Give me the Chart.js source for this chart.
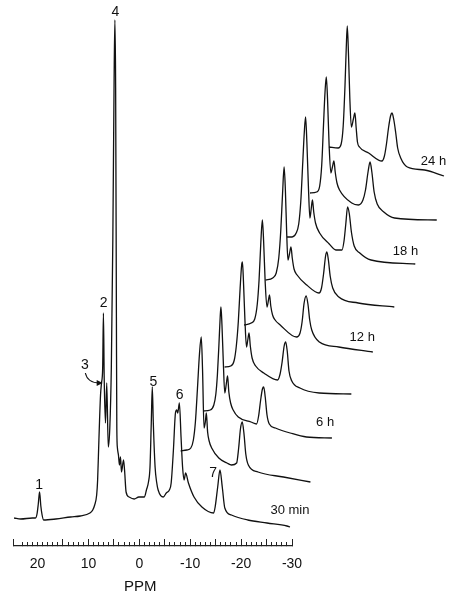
<!DOCTYPE html>
<html><head><meta charset="utf-8">
<script src="https://cdn.jsdelivr.net/npm/chart.js@4/dist/chart.umd.min.js"></script>
<style>html,body{margin:0;padding:0;background:#fff;}canvas{display:block;}</style>
</head><body>
<canvas id="c" width="464" height="599"></canvas>
<script>
// Spectra: [ppm, intensity above the trace's own baseline]
const traceNames = ['30 min','3 h','6 h','9 h','12 h','15 h','18 h','21 h','24 h'];
const spec_30min = [[24.6,0],[23.3,-1],[21.0,0],[20.4,0],[20.1,4],[19.85,14],[19.6,26],[19.35,12],[19.1,3],[18.8,-2],[16.4,-1],[13.5,1],[11.6,2],[9.7,5],[9.15,8],[8.77,13],[8.38,23],[8.19,38],[8.0,68],[7.81,98],[7.62,123],[7.43,135],[7.2,150],[7.05,205],[6.9,140],[6.65,95],[6.4,135],[6.1,71],[5.8,90],[5.5,150],[5.2,280],[4.95,440],[4.8,498],[4.65,430],[4.5,200],[4.42,90],[4.3,70],[4.1,63],[3.9,53],[3.7,61],[3.5,46],[3.1,58],[2.9,48],[2.6,26],[2.0,21],[1.0,19],[0.1,21],[-1.0,21],[-1.4,28],[-1.8,36],[-2.1,51],[-2.35,95],[-2.55,131],[-2.75,95],[-3.1,51],[-3.4,36],[-3.7,28],[-4.7,21],[-5.3,25],[-5.9,28],[-6.26,35],[-6.7,68],[-7.1,105],[-7.35,108],[-7.55,105],[-7.87,115],[-8.2,81],[-8.5,51],[-8.8,38],[-9.1,45],[-9.65,35],[-10.75,21],[-12.3,11],[-14.6,5],[-14.9,11],[-15.4,31],[-15.85,48],[-16.3,31],[-16.8,10],[-18.1,3],[-21.3,-2],[-25.1,-5],[-29.0,-8],[-29.6,-9]];
const spec_3h = [[-3.9,23],[-5.1,24],[-5.9,26],[-6.4,34],[-6.8,52],[-7.2,85],[-7.6,120],[-7.95,137],[-8.2,105],[-8.5,46],[-8.75,52],[-8.95,61],[-9.2,42],[-9.5,33],[-10.0,26],[-11.4,16],[-13.0,11],[-13.9,9],[-14.9,11],[-15.3,26],[-15.65,45],[-16.0,52],[-16.35,40],[-16.7,20],[-17.2,9],[-19.1,2],[-24.1,-3],[-29.4,-8]];
const spec_6h = [[-4.1,19],[-5.5,20],[-6.2,25],[-6.6,36],[-6.9,55],[-7.2,85],[-7.45,113],[-7.6,123],[-7.8,105],[-8.05,70],[-8.35,37],[-8.65,46],[-8.9,54],[-9.15,38],[-9.5,27],[-10.0,20],[-11.0,13],[-13.5,8],[-14.6,6],[-15.0,14],[-15.4,30],[-15.75,41],[-16.0,43],[-16.3,33],[-16.65,15],[-17.1,6],[-18.3,2],[-21.2,-3],[-24.4,-7],[-29.4,-8]];
const spec_9h = [[-4.1,19],[-5.3,20],[-6.0,26],[-6.4,40],[-6.8,65],[-7.15,98],[-7.45,121],[-7.6,124],[-7.8,105],[-8.1,65],[-8.4,39],[-8.65,46],[-8.9,53],[-9.15,40],[-9.5,28],[-10.2,20],[-11.8,13],[-14.5,6],[-15.0,12],[-15.4,24],[-15.8,40],[-16.1,44],[-16.4,35],[-16.75,15],[-17.3,5],[-18.9,-2],[-22.7,-7],[-29.0,-8]];
const spec_12h = [[-3.7,17],[-5.1,19],[-5.8,23],[-6.3,38],[-6.65,62],[-7.0,100],[-7.3,122],[-7.55,100],[-7.85,60],[-8.2,35],[-8.5,42],[-8.7,47],[-8.95,36],[-9.3,27],[-9.8,22],[-10.8,17],[-14.0,5],[-14.7,9],[-15.1,20],[-15.5,39],[-15.9,46],[-16.25,38],[-16.6,22],[-17.0,12],[-18.5,0],[-22.3,-5],[-29.0,-10]];
const spec_15h = [[-3.7,18],[-5.1,20],[-5.8,25],[-6.3,40],[-6.7,68],[-7.05,105],[-7.35,131],[-7.6,108],[-7.85,66],[-8.1,38],[-8.4,44],[-8.7,51],[-8.95,40],[-9.3,29],[-9.9,23],[-11.8,13],[-14.2,5],[-14.7,10],[-15.1,24],[-15.5,42],[-15.75,46],[-16.05,38],[-16.4,22],[-16.9,10],[-18.1,1],[-21.9,-5],[-29.0,-9]];
const spec_18h = [[-3.7,17],[-4.7,17],[-5.5,21],[-6.0,30],[-6.4,52],[-6.8,92],[-7.1,122],[-7.35,137],[-7.6,112],[-7.9,68],[-8.2,36],[-8.45,45],[-8.7,54],[-8.95,42],[-9.3,31],[-10.1,21],[-12.0,10],[-13.3,4],[-14.5,4],[-14.9,13],[-15.25,30],[-15.6,47],[-15.95,40],[-16.35,22],[-16.9,8],[-18.0,1],[-20.2,-6],[-28.9,-10]];
const spec_21h = [[-4.0,17],[-5.3,18],[-5.9,24],[-6.3,45],[-6.65,85],[-6.95,118],[-7.2,133],[-7.45,110],[-7.75,65],[-8.1,37],[-8.4,43],[-8.7,49],[-8.95,38],[-9.3,27],[-9.8,20],[-12.2,7],[-13.5,5],[-14.4,10],[-14.9,20],[-15.4,38],[-15.8,48],[-16.15,38],[-16.6,18],[-17.2,6],[-18.5,-2],[-20.6,-8],[-28.9,-10]];
const spec_24h = [[-3.5,19],[-5.3,18],[-5.9,22],[-6.3,40],[-6.65,80],[-6.9,118],[-7.1,140],[-7.35,110],[-7.6,68],[-7.9,39],[-8.3,47],[-8.6,53],[-8.85,38],[-9.1,24],[-9.5,19],[-11.3,13],[-13.9,5],[-14.4,10],[-14.8,22],[-15.2,38],[-15.6,50],[-15.9,53],[-16.25,46],[-16.6,34],[-17.0,18],[-17.6,8],[-18.9,-1],[-22.3,-4],[-26.1,-10]];
const spectra = [spec_30min,spec_3h,spec_6h,spec_9h,spec_12h,spec_15h,spec_18h,spec_21h,spec_24h];

const tickLabels = [20,10,0,-10,-20,-30];
const peakLabels = ['1','2','3','4','5','6','7'];
const peakLabelAt = [[19.7,61],[7.0,243],[10.7,181],[4.7,534],[-2.75,164],[-7.9,151],[-14.5,73]];
const timeLabels = ['30 min','6 h','12 h','18 h','24 h'];
const timeLabelAt = [[-29.6,36],[-36.5,124],[-43.8,209],[-52.3,295],[-57.8,385]];
const arrow3 = [[10.6,173],[10.2,163],[7.2,163]];

// stacking offsets of the waterfall (layout)
const SHIFT_PPM = 4.22, SHIFT_Y = 44, BASE_Y = 28;
const FONT = '"Liberation Sans", Arial, Helvetica, sans-serif';

const annotate = {
  id: 'annotate',
  afterDatasetsDraw(chart) {
    const {ctx, scales: {x, y}} = chart;
    const px = p => x.getPixelForValue(p), py = v => y.getPixelForValue(v);
    ctx.save();
    ctx.fillStyle = '#111';
    ctx.textAlign = 'center';
    ctx.textBaseline = 'middle';
    ctx.font = '14px ' + FONT;
    peakLabels.forEach((t, i) => ctx.fillText(t, px(peakLabelAt[i][0]), py(peakLabelAt[i][1])));
    ctx.font = '13px ' + FONT;
    timeLabels.forEach((t, i) => ctx.fillText(t, px(timeLabelAt[i][0]), py(timeLabelAt[i][1])));
    const [a, b, c] = arrow3;
    ctx.strokeStyle = '#111';
    ctx.lineWidth = 1.1;
    ctx.beginPath();
    ctx.moveTo(px(a[0]), py(a[1]));
    ctx.quadraticCurveTo(px(b[0]), py(b[1]), px(c[0]) - 3, py(c[1]));
    ctx.stroke();
    const ex = px(c[0]), ey = py(c[1]);
    ctx.beginPath();
    ctx.moveTo(ex, ey);
    ctx.lineTo(ex - 6, ey - 3);
    ctx.lineTo(ex - 6, ey + 3);
    ctx.closePath();
    ctx.fill();
    ctx.restore();
  }
};

new Chart(document.getElementById('c'), {
  type: 'scatter',
  data: {
    datasets: spectra.map((s, k) => ({
      label: traceNames[k],
      data: s.map(([p, v]) => ({x: p - k * SHIFT_PPM, y: v + BASE_Y + k * SHIFT_Y})),
      showLine: true, borderColor: '#111', borderWidth: 1.3,
      pointRadius: 0, cubicInterpolationMode: 'monotone', capBezierPoints: false,
      fill: false, clip: false
    }))
  },
  options: {
    responsive: false, animation: false, devicePixelRatio: 1,
    layout: {padding: {left: 7, right: 172, top: 10, bottom: 0}},
    plugins: {legend: {display: false}, tooltip: {enabled: false}},
    scales: {
      x: {
        type: 'linear', reverse: true, min: -30, max: 24.7, position: 'bottom',
        border: {display: true, color: '#222', width: 1.2},
        grid: {drawOnChartArea: false, drawTicks: true, tickLength: -4, tickColor: '#222', tickWidth: 1},
        ticks: {stepSize: 1, autoSkip: false, maxRotation: 0, padding: 13.6, color: '#111',
          font: {family: FONT, size: 14},
          callback: v => tickLabels.includes(Math.round(v * 100) / 100) ? String(v) : ''},
        title: {display: true, text: 'PPM      ', color: '#111', font: {family: FONT, size: 15}, padding: {top: -8, bottom: 3}}
      },
      x2: {
        type: 'linear', axis: 'x', reverse: true, min: -30, max: 24.7, position: {y: 0},
        border: {display: false},
        grid: {drawOnChartArea: false, drawTicks: true, tickLength: -7, tickColor: '#222', tickWidth: 1},
        ticks: {display: false, stepSize: 5, autoSkip: false}
      },
      y: {type: 'linear', min: 0, max: 536, display: false}
    }
  },
  plugins: [annotate]
});
</script>
</body></html>
